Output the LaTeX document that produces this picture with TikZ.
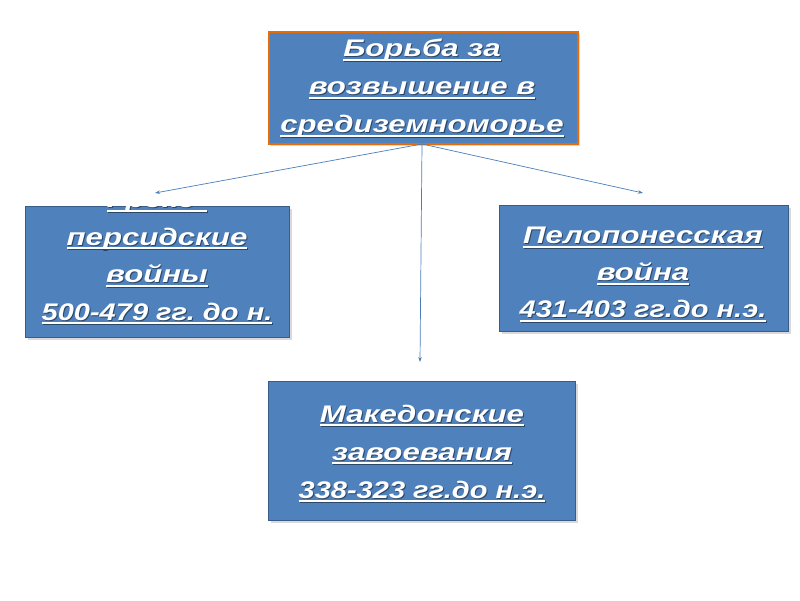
\documentclass[tikz,border=0pt]{standalone}
\usepackage{fontspec}
\setmainfont{Liberation Sans}
\newfontfamily\boxfont[FakeStretch=1.3]{Liberation Sans}
\newfontfamily\numfont[FakeStretch=1.21]{Liberation Sans}
\usetikzlibrary{arrows.meta,shadows}
\definecolor{boxblue}{HTML}{4F81BD}
\definecolor{boxedge}{HTML}{385D8A}
\definecolor{edgeorange}{HTML}{E46C0A}
\definecolor{linkblue}{HTML}{4A7EBB}
\colorlet{txtshadow}{boxblue!55!black}
\frenchspacing
\newcommand\myul[1]{\setbox0\hbox{#1}\rlap{\textcolor{txtshadow}{\kern1pt\raise-1pt\copy0}}\rlap{\copy0}\rlap{\textcolor{txtshadow}{\kern1pt\rule[-5pt]{\wd0}{1.8pt}}}\rule[-4pt]{\wd0}{1.8pt}}
\newcommand\numline[1]{\myul{\numfont\bfseries\itshape #1}}
\begin{document}
\begin{tikzpicture}[x=1pt,y=-1pt,
  box/.style={draw=boxedge,line width=1pt,fill=boxblue,text=white,align=center,
    inner sep=0pt,anchor=north west,
    drop shadow={shadow xshift=2pt,shadow yshift=-2pt,opacity=0.3}},
  boxtext/.style={text=white,align=center,anchor=center,font=\fontsize{24}{36}\boxfont\bfseries\itshape},
  link/.style={draw=linkblue,line width=0.7pt,-{Stealth[length=5pt,width=3.5pt]}}]
\useasboundingbox (0,0) rectangle (800,600);
% top
\node[box,draw=edgeorange,line width=2pt,minimum width=309pt,minimum height=112pt] (top) at (268,31) {};
\node[boxtext,font=\fontsize{24}{38}\boxfont\bfseries\itshape] (toptxt) at (422,89)
  {\myul{Борьба за}\\ \myul{возвышение в}\\ \myul{средиземноморье}};
% left
\node[box,minimum width=264pt,minimum height=131pt] (left) at (25,206) {};
\begin{scope}
\clip (left.north west) rectangle (left.south east);
\node[boxtext,font=\fontsize{24}{37.5}\boxfont\bfseries\itshape] (lefttxt) at (157,258)
  {\myul{Греко-}\\ \myul{персидские}\\ \myul{войны}\\ \numline{500-479 гг. до н.}};
\end{scope}
% right
\node[box,minimum width=289pt,minimum height=126pt] (right) at (499,205) {};
\node[boxtext,font=\fontsize{24}{37}\boxfont\bfseries\itshape] (righttxt) at (643,275)
  {\myul{Пелопонесская}\\ \myul{война}\\ \numline{431-403 гг.до н.э.}};
% bottom
\node[box,minimum width=307pt,minimum height=139pt] (bottom) at (268,381) {};
\node[boxtext,font=\fontsize{24}{38}\boxfont\bfseries\itshape] (bottomtxt) at (422,454)
  {\myul{Македонские}\\ \myul{завоевания}\\ \numline{338-323 гг.до н.э.}};
% links
\coordinate (src) at (422,144);
\coordinate (lt) at (155,193);
\coordinate (rt) at (643,193);
\coordinate (bt) at (420,362);
\draw[link] (src) -- (lt);
\draw[link] (src) -- (rt);
\draw[link] (src) -- (bt);
\end{tikzpicture}
\end{document}
